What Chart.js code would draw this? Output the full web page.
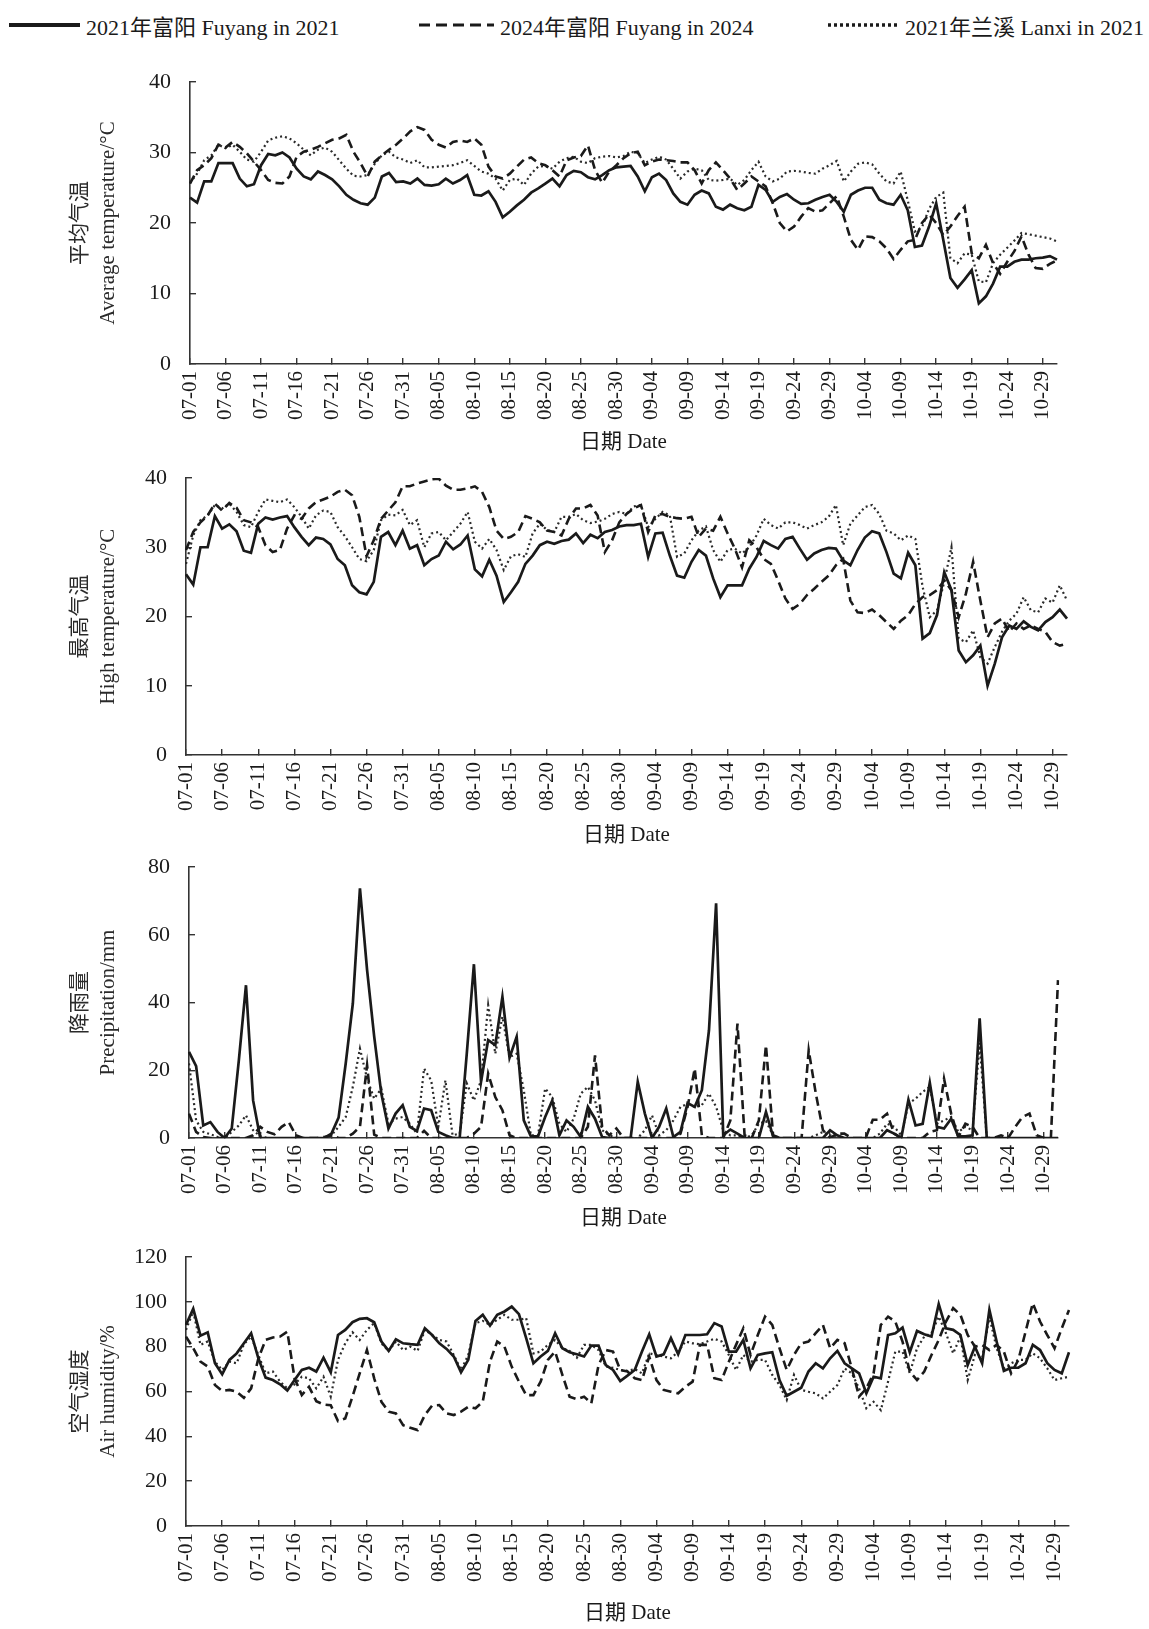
<!DOCTYPE html>
<html>
<head>
<meta charset="utf-8">
<script src="https://cdn.jsdelivr.net/npm/chart.js@4.4.1/dist/chart.umd.min.js"></script>
<style>
html,body{margin:0;padding:0;background:#fff;}
body{width:1149px;height:1629px;position:relative;overflow:hidden;font-family:"Liberation Serif","Noto Sans CJK SC",serif;color:#1a1a1a;}
.lg{position:absolute;top:10px;height:30px;display:flex;align-items:center;font-size:22px;white-space:nowrap;}
.lg svg{margin-right:6px;display:block;}
canvas{position:absolute;left:0;}
</style>
</head>
<body>
<div class="lg" style="left:9px"><svg width="71" height="10"><line x1="0" y1="5" x2="71" y2="5" stroke="#1a1a1a" stroke-width="4"/></svg><span id="lg0"></span></div>
<div class="lg" style="left:419px"><svg width="75" height="10"><line x1="0" y1="5" x2="75" y2="5" stroke="#1a1a1a" stroke-width="3.2" stroke-dasharray="11 6"/></svg><span id="lg1"></span></div>
<div class="lg" style="left:828px"><svg width="71" height="10"><line x1="0" y1="5" x2="71" y2="5" stroke="#1a1a1a" stroke-width="3.4" stroke-dasharray="3 3"/></svg><span id="lg2"></span></div>
<canvas id="c1"></canvas>
<canvas id="c2"></canvas>
<canvas id="c3"></canvas>
<canvas id="c4"></canvas>
<script>
const seriesNames = ['2021年富阳 Fuyang in 2021', '2024年富阳 Fuyang in 2024', '2021年兰溪 Lanxi in 2021'];

const dates = [
'07-01','07-02','07-03','07-04','07-05','07-06','07-07','07-08','07-09','07-10',
'07-11','07-12','07-13','07-14','07-15','07-16','07-17','07-18','07-19','07-20',
'07-21','07-22','07-23','07-24','07-25','07-26','07-27','07-28','07-29','07-30',
'07-31','08-01','08-02','08-03','08-04','08-05','08-06','08-07','08-08','08-09',
'08-10','08-11','08-12','08-13','08-14','08-15','08-16','08-17','08-18','08-19',
'08-20','08-21','08-22','08-23','08-24','08-25','08-26','08-27','08-28','08-29',
'08-30','08-31','09-01','09-02','09-03','09-04','09-05','09-06','09-07','09-08',
'09-09','09-10','09-11','09-12','09-13','09-14','09-15','09-16','09-17','09-18',
'09-19','09-20','09-21','09-22','09-23','09-24','09-25','09-26','09-27','09-28',
'09-29','09-30','10-01','10-02','10-03','10-04','10-05','10-06','10-07','10-08',
'10-09','10-10','10-11','10-12','10-13','10-14','10-15','10-16','10-17','10-18',
'10-19','10-20','10-21','10-22','10-23','10-24','10-25','10-26','10-27','10-28',
'10-29','10-30','10-31'];

// 平均气温 Average temperature /°C
const avgFuyang2021 = [
23.6,22.9,25.9,25.9,28.5,28.5,28.5,26.3,25.2,25.5,
28.2,29.8,29.6,30.0,29.3,27.7,26.6,26.2,27.3,26.8,
26.2,25.2,24.0,23.3,22.8,22.6,23.6,26.6,27.1,25.8,
25.9,25.6,26.3,25.4,25.3,25.5,26.3,25.6,26.1,26.8,
24.0,23.9,24.5,23.0,20.8,21.6,22.5,23.3,24.3,24.9,
25.6,26.3,25.2,26.8,27.4,27.2,26.5,26.2,26.8,27.5,
27.9,28.0,28.1,26.6,24.5,26.5,27.0,26.1,24.2,23.0,
22.6,24.0,24.6,24.2,22.3,21.9,22.6,22.1,21.8,22.3,
25.4,24.7,23.0,23.7,24.1,23.3,22.7,22.8,23.3,23.7,
24.0,23.0,21.6,24.0,24.6,25.0,25.0,23.3,22.8,22.6,
24.0,21.8,16.6,16.8,19.5,22.8,17.6,12.2,10.8,12.0,
13.3,8.6,9.6,11.4,13.8,13.8,14.5,14.8,14.8,15.0,
15.1,15.3,14.8];
const avgFuyang2024 = [
25.6,27.5,28.2,29.2,31.1,30.7,31.5,30.8,29.9,28.7,
27.5,26.1,25.7,25.6,26.6,29.4,30.1,30.4,30.8,31.3,
31.8,32.0,32.5,30.1,28.5,26.6,28.7,29.6,30.4,31.1,
32.0,33.0,33.6,33.2,31.8,31.1,30.7,31.5,31.7,31.5,
32.0,31.1,28.0,26.6,26.3,27.0,28.0,29.0,29.3,28.5,
28.2,27.5,26.6,28.9,29.3,29.5,31.0,27.5,25.7,27.3,
28.2,29.2,29.9,30.1,28.2,28.7,29.0,28.9,28.8,28.6,
28.6,27.5,25.6,27.5,28.6,27.5,26.3,24.7,25.6,26.6,
25.9,25.2,22.8,20.0,18.8,19.5,20.9,22.1,21.6,21.8,
22.8,23.8,20.9,17.6,16.2,18.1,18.0,17.4,16.4,14.9,
16.2,17.4,17.6,20.0,21.2,20.0,18.3,19.5,21.0,22.3,
15.7,15.0,16.9,14.3,12.8,14.5,16.0,18.1,15.5,13.6,
13.5,14.2,14.7];
const avgLanxi2021 = [
25.7,27.0,28.9,29.6,31.1,30.6,31.1,30.1,29.0,28.7,
30.1,31.7,32.1,32.3,32.0,31.3,30.4,29.6,30.4,30.7,
30.1,28.9,27.7,26.7,26.6,26.8,28.4,29.6,30.1,29.3,
29.0,28.5,28.9,27.9,27.9,28.0,28.1,28.2,28.5,28.9,
28.1,27.3,27.0,26.3,24.6,26.1,26.3,25.4,27.0,28.0,
28.1,27.7,28.7,29.2,29.4,28.7,28.5,29.2,29.4,29.5,
29.3,29.5,30.1,29.9,28.5,29.0,29.4,29.0,27.7,26.3,
27.3,27.7,27.5,26.1,26.0,26.1,26.3,25.4,26.1,27.5,
28.7,26.6,25.9,26.3,27.3,27.4,27.3,27.1,27.0,27.7,
28.2,28.8,25.9,27.3,28.4,28.6,28.3,27.0,25.9,25.6,
27.3,23.2,18.8,19.4,22.0,23.7,24.3,15.0,14.3,15.7,
15.5,11.7,11.6,14.3,15.5,16.5,17.5,18.6,18.4,18.2,
18.0,17.8,17.4];

// 最高气温 High temperature /°C
const highFuyang2021 = [
26.1,24.6,30.0,30.0,34.5,32.7,33.3,32.3,29.5,29.2,
33.4,34.3,34.0,34.3,34.5,32.9,31.5,30.3,31.4,31.2,
30.4,28.3,27.4,24.5,23.5,23.2,25.0,31.5,32.2,30.3,
32.4,29.8,30.3,27.4,28.3,28.8,30.8,29.7,30.4,31.7,
26.8,25.8,28.2,25.9,22.1,23.5,25.0,27.6,28.8,30.3,
30.8,30.5,30.9,31.1,32.0,30.6,31.8,31.3,32.2,32.5,
33.0,33.2,33.2,33.4,28.6,32.0,32.1,28.8,25.9,25.6,
27.9,29.6,28.8,25.5,22.8,24.5,24.5,24.5,26.9,28.6,
30.9,30.3,29.8,31.2,31.5,29.8,28.2,29.1,29.6,29.9,
29.8,28.1,27.4,29.6,31.4,32.3,32.0,29.3,26.2,25.5,
29.2,27.4,16.8,17.6,20.2,26.4,23.8,15.1,13.4,14.4,
15.8,10.0,13.2,17.0,18.7,18.2,19.3,18.5,18.0,19.2,
19.9,21.0,19.7];
const highFuyang2024 = [
29.6,32.2,33.6,34.6,36.3,35.3,36.4,35.7,33.9,33.6,
32.9,30.3,29.3,29.6,32.7,34.6,34.1,35.6,36.5,36.9,
37.3,38.0,38.3,37.5,34.4,28.7,31.0,34.1,35.3,36.5,
38.8,38.8,39.2,39.5,39.8,39.9,38.9,38.3,38.3,38.5,
38.8,38.0,35.8,32.4,31.2,31.5,32.2,34.5,34.1,33.6,
32.4,32.2,31.7,34.1,35.6,35.6,36.1,34.6,29.3,31.0,
33.6,34.8,35.6,36.1,32.2,34.6,34.8,34.4,34.2,34.1,
34.4,31.5,32.7,32.4,34.4,32.0,29.8,27.1,31.0,30.0,
28.3,27.6,25.2,22.6,21.1,21.8,23.1,24.0,25.0,25.9,
27.4,28.3,22.3,20.6,20.5,21.0,20.2,19.2,18.2,19.4,
20.2,21.8,22.8,23.1,23.8,25.2,23.8,19.9,23.3,27.9,
22.3,17.0,19.0,19.7,17.8,19.0,18.2,18.7,18.2,17.8,
16.3,15.8,16.1];
const highLanxi2021 = [
27.6,31.7,33.9,34.6,36.1,35.6,36.3,35.1,33.2,32.9,
35.1,36.9,36.7,36.5,36.9,35.8,34.4,32.7,34.6,35.3,
35.1,32.9,31.6,30.0,28.3,28.0,29.6,33.9,34.7,34.6,
35.4,33.2,33.9,30.0,32.0,32.2,31.0,32.2,33.4,35.1,
30.8,29.8,31.2,29.6,26.7,28.7,29.0,28.6,32.0,33.4,
32.5,32.2,34.4,34.4,34.8,33.9,33.5,33.7,34.1,34.8,
35.1,34.8,35.9,36.1,32.9,34.1,35.1,34.6,28.6,29.1,
31.0,32.4,33.0,29.6,27.9,29.6,29.8,29.1,30.0,31.7,
34.1,33.2,32.7,33.6,33.6,33.2,32.7,33.2,33.6,34.4,
36.1,30.3,33.4,34.6,35.8,36.1,34.8,32.4,32.0,31.0,
31.7,31.2,24.3,19.9,20.9,25.0,30.0,16.8,16.3,18.0,
14.1,13.2,15.6,17.8,19.4,20.4,22.8,20.9,20.6,22.6,
22.0,24.5,22.3];

// 降雨量 Precipitation /mm
const rainFuyang2021 = [
25.4,21.2,3.7,4.7,1.8,0,2.8,23,45.1,11.1,
0,0,0,0,0,0,0,0,0,0,
1.3,6,22,39.7,73.7,49.6,29.9,13.1,2.8,7.2,
9.7,3.3,2.1,8.7,8.2,1.8,0.8,0,0,25,
51.3,16.6,28.9,27.4,41.7,23.7,29.9,5.2,0.5,0.5,
6.2,11.1,0.8,5.2,3.3,0.3,9.2,5.7,0.3,0,
0,0,0,16.6,7.2,0,3.3,8.7,0.3,1.8,
10.3,9.2,14.1,31.8,69.3,0.8,2.5,1.3,0,0,
0,7.7,0.5,0,0,0,0,0,0,0,
2.3,0.8,0,0,0,0,0,0,2.3,1.3,
0,11.3,3.7,4.2,16.3,3.3,2.8,5.7,0.5,0.5,
0.8,35.3,0,0,0,0,0,0,0,0,
0,0,0];
const rainFuyang2024 = [
7.2,1.8,0.3,0,0,0,0,0,0,0.8,
3.3,1.8,1.1,3.3,4.7,0.8,0,0,0,0.3,
0.8,0,0,1.3,3.3,21.5,1,0,0,0,
0,0,0,2.1,0,0,0,0,0,0,
1.3,3.3,19.0,12.1,8.2,0.8,0,0,0,0,
0,0,0,0,0,0,3.3,24.4,3.3,0.8,
2.8,0,0,0,0,0,0,0,0,1.3,
9.2,20.5,0.8,0,0,0,5.2,33.8,0.8,0,
5.2,27.4,0.8,0,0,0,0,25.9,13.1,2.3,
0,1.3,1.3,0,0,0,5.4,5.4,7.2,1.3,
0,0,0,0,1.8,2.3,17.5,7.2,0.3,4.2,
3.3,0,0,0,0.8,0,3.3,6.2,7.2,0.8,
0,0,46.6];
const rainLanxi2021 = [
22.0,5.2,1.8,1.1,0.3,0,1.8,3.7,6.7,2.3,
0.5,0,0,0,0,0,0,0,0,0,
0.8,3.3,6.2,15.1,26.4,17.5,11.6,14.6,4.2,5.7,
6.2,4.2,1.3,20.5,17.0,3.3,17.0,0.8,1.3,16.1,
11.1,17.0,39.2,24.9,35.8,23.9,24.9,14.1,0.8,0.8,
14.6,12.1,4.2,1.8,5.7,13.1,15.1,11.1,2.3,0.8,
0,0,0,0,2.3,6.7,0.8,2.3,5.2,9.2,
10.1,9.2,9.7,13.1,9.2,2.3,0.8,0.8,0,0.8,
4.2,5.0,0.8,0,0,0,0,0,0.8,1.8,
0.8,0,0,0,0,0,0,1.3,4.2,3.3,
0.8,10.1,11.6,13.6,15.1,4.2,5.2,6.2,1.8,3.3,
2.3,28,0,0,0,0,0,0,0,0,
0,0,0];

// 空气湿度 Air humidity /%
const humFuyang2021 = [
89.7,96.9,84.9,86.4,72.6,67.7,74.1,77.0,81.5,86.0,
74.8,66.2,65.1,63.2,60.4,65.1,69.6,70.6,68.9,75.1,
68.6,85.2,87.5,90.9,92.4,92.7,90.9,82.3,78.1,83.3,
81.5,81.1,80.8,88.2,85.2,81.5,79.0,75.6,68.6,74.1,
91.5,94.2,89.4,94.2,95.7,97.9,94.5,83.8,72.6,75.6,
78.1,86.0,79.3,77.5,76.6,75.6,80.5,80.5,71.8,69.6,
64.7,67.1,69.6,77.8,85.5,75.6,76.6,83.8,76.6,85.2,
85.2,85.2,85.5,90.5,89.0,77.8,77.8,83.0,70.3,76.3,
77.0,77.5,65.1,58.1,59.9,61.7,68.9,72.6,70.3,74.8,
78.1,72.6,70.3,68.1,59.2,66.6,65.9,85.2,86.0,88.5,
77.5,87.0,85.5,84.5,99.0,88.2,87.5,85.2,71.8,80.0,
72.6,96.4,82.3,69.2,70.6,70.6,72.6,80.8,78.5,72.6,
69.6,68.1,77.5];
const humFuyang2024 = [
84.5,79.3,73.3,71.1,62.9,60.2,60.7,59.9,57.2,61.4,
74.8,83.0,84.1,84.5,86.7,65.9,58.4,62.1,55.7,54.2,
53.9,46.8,48.0,57.7,68.1,78.5,65.9,55.4,51.0,50.2,
45.0,43.8,42.8,49.5,53.7,53.9,50.2,49.5,51.0,53.2,
52.5,55.4,73.3,82.3,80.0,71.1,64.4,58.4,58.4,64.4,
74.1,77.8,67.4,57.7,56.6,57.7,54.7,71.8,78.5,77.8,
69.6,68.9,65.9,65.1,75.6,65.1,60.7,59.9,59.2,62.1,
64.4,80.8,80.8,65.9,65.1,73.3,80.8,88.2,76.3,85.2,
93.4,89.7,79.3,69.6,76.3,81.5,82.3,86.0,89.7,79.3,
83.0,81.5,70.3,57.7,61.4,68.1,89.7,93.4,91.2,82.3,
68.9,65.1,68.9,76.3,83.0,91.2,97.2,94.2,85.2,80.0,
80.8,78.5,80.8,77.8,68.1,74.1,86.7,99.4,91.2,85.2,
79.3,88.2,96.4];
const humLanxi2021 = [
87.5,95.7,80.8,82.3,73.3,69.6,73.3,72.6,81.1,84.5,
76.3,68.1,68.9,64.4,61.4,63.2,66.6,65.9,61.4,66.6,
57.7,74.1,81.5,86.4,83.0,87.5,90.5,81.5,78.1,82.3,
78.5,80.0,78.1,87.5,85.2,83.0,82.3,76.3,69.6,76.3,
90.5,91.5,89.7,92.0,94.2,92.0,92.0,92.7,77.0,77.8,
80.8,83.0,79.3,78.1,75.1,80.8,80.8,78.5,71.1,70.6,
69.6,69.2,70.0,68.1,77.0,76.3,75.6,74.8,77.8,82.3,
81.5,81.1,82.3,83.5,82.3,76.3,69.6,76.3,73.3,74.1,
74.1,67.4,62.9,56.2,67.4,60.7,59.9,59.2,56.9,59.9,
62.9,70.3,68.1,61.4,52.5,55.4,51.7,64.4,77.8,77.8,
68.1,79.3,84.5,86.0,93.4,86.0,77.0,84.5,65.1,76.3,
74.8,93.4,79.3,70.3,72.6,74.1,74.1,77.0,74.8,70.3,
65.1,65.9,66.6];

const xTitle = '日期 Date';
const yTitles = [
  ['平均气温', 'Average temperature/°C'],
  ['最高气温', 'High temperature/°C'],
  ['降雨量', 'Precipitation/mm'],
  ['空气湿度', 'Air humidity/%']
];
const yMax = [40, 40, 80, 120];
const yStep = [10, 10, 20, 20];

// ---------- rendering ----------
seriesNames.forEach((n, i) => { document.getElementById('lg' + i).textContent = n; });

const FONT = '"Liberation Serif", "Noto Sans CJK SC", serif';
const INK = '#1a1a1a';
const AXIS = '#333333';

// geometry of each panel on the page (canvas top/height, plot left/right, x-axis box height)
const panels = [
  { id: 'c1', top: 42,   h: 413, left: 190, right: 1057, xh: 91,  data: [avgFuyang2021, avgFuyang2024, avgLanxi2021] },
  { id: 'c2', top: 438,  h: 410, left: 186, right: 1067, xh: 93,  data: [highFuyang2021, highFuyang2024, highLanxi2021] },
  { id: 'c3', top: 827,  h: 404, left: 189, right: 1058, xh: 93,  data: [rainFuyang2021, rainFuyang2024, rainLanxi2021] },
  { id: 'c4', top: 1217, h: 409, left: 186, right: 1069, xh: 100, data: [humFuyang2021, humFuyang2024, humLanxi2021] }
];

const styles = [
  { borderWidth: 2.7, borderDash: [] , borderColor: INK },
  { borderWidth: 2.6, borderDash: [9, 5], borderColor: INK },
  { borderWidth: 2.2, borderDash: [2, 3], borderColor: '#2a2a2a' }
];

panels.forEach((p, k) => {
  const cv = document.getElementById(p.id);
  cv.width = 1149; cv.height = p.h;
  cv.style.width = '1149px'; cv.style.height = p.h + 'px';
  cv.style.top = p.top + 'px';
  new Chart(cv, {
    type: 'line',
    data: {
      labels: dates,
      datasets: p.data.map((arr, j) => Object.assign({
        label: seriesNames[j],
        data: arr,
        pointRadius: 0,
        pointHoverRadius: 0,
        tension: 0,
        fill: false,
        borderJoinStyle: 'miter',
        borderCapStyle: 'butt'
      }, styles[j]))
    },
    options: {
      responsive: false,
      animation: false,
      events: [],
      layout: { padding: { top: 40, right: 1149 - p.right, bottom: 0, left: 0 } },
      plugins: { legend: { display: false }, tooltip: { enabled: false } },
      scales: {
        x: {
          type: 'category',
          offset: false,
          afterFit: (s) => { s.height = p.xh; },
          border: { display: true, color: AXIS, width: 1.6 },
          grid: {
            drawOnChartArea: false,
            drawTicks: true,
            tickLength: -6,
            lineWidth: 1.4,
            color: (c) => (c.index % 5 === 0 ? AXIS : 'rgba(0,0,0,0)')
          },
          ticks: {
            autoSkip: false,
            maxRotation: 90,
            minRotation: 90,
            padding: 13,
            color: INK,
            font: { family: FONT, size: 21 },
            callback: function (v, i) { return i % 5 === 0 ? this.getLabelForValue(v) : ''; }
          },
          title: {
            display: true,
            text: xTitle,
            color: INK,
            font: { family: FONT, size: 21, lineHeight: 1.2 },
            padding: { top: 0, bottom: 0 }
          }
        },
        y: {
          min: 0,
          max: yMax[k],
          afterFit: (s) => { s.width = p.left; },
          border: { display: true, color: AXIS, width: 1.6 },
          grid: {
            drawOnChartArea: false,
            drawTicks: true,
            tickLength: -6,
            lineWidth: 1.4,
            color: AXIS
          },
          ticks: {
            stepSize: yStep[k],
            padding: 25,
            color: INK,
            font: { family: FONT, size: 22 }
          },
          title: {
            display: true,
            text: yTitles[k],
            color: '#2a2a2a',
            font: { family: FONT, size: 21, lineHeight: 1.333 },
            padding: { top: 66, bottom: 0 }
          }
        }
      }
    }
  });
});
</script>
</body>
</html>
